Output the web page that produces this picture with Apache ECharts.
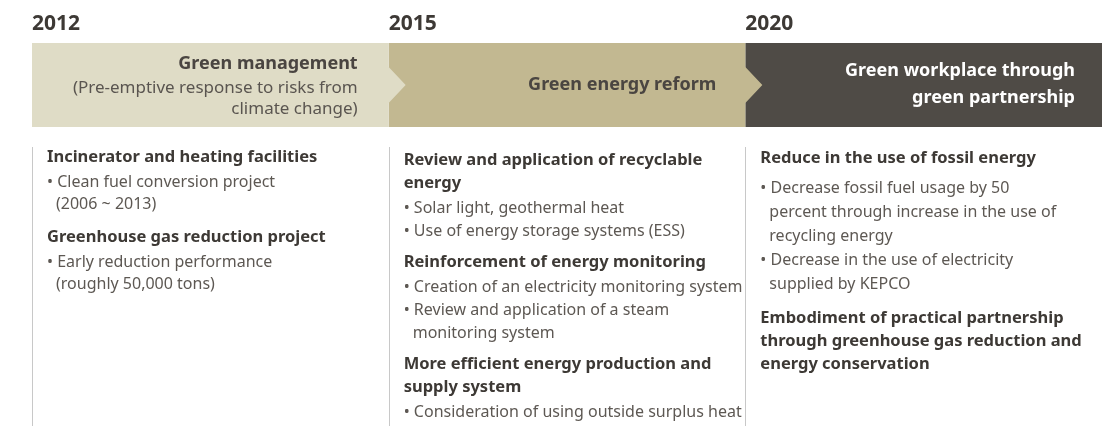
<!DOCTYPE html>
<html>
<head>
<meta charset="utf-8">
<script src="https://cdn.jsdelivr.net/npm/echarts@6/dist/echarts.min.js"></script>
<style>
    html, body { margin: 0; padding: 0; background: #fff; }
    #main { width: 1111px; height: 426px; }
</style>
</head>
<body>
<div id="main"></div>
<script>
// years and the band headline of each phase
const years = ['2012', '2015', '2020'];
const phaseTitles = [
    ['Green management'],
    ['Green energy reform'],
    ['Green workplace through', 'green partnership']
];
const phaseNotes = [
    ['(Pre-emptive response to risks from', 'climate change)'],
    [],
    []
];

// h = heading line, b = bullet line, c = continued bullet line
const details2012 = [
    ['h', 'Incinerator and heating facilities'],
    ['b', 'Clean fuel conversion project'],
    ['c', '(2006 ~ 2013)'],
    ['h', 'Greenhouse gas reduction project'],
    ['b', 'Early reduction performance'],
    ['c', '(roughly 50,000 tons)']
];
const details2015 = [
    ['h', 'Review and application of recyclable'],
    ['h', 'energy'],
    ['b', 'Solar light, geothermal heat'],
    ['b', 'Use of energy storage systems (ESS)'],
    ['h', 'Reinforcement of energy monitoring'],
    ['b', 'Creation of an electricity monitoring system'],
    ['b', 'Review and application of a steam'],
    ['c', 'monitoring system'],
    ['h', 'More efficient energy production and'],
    ['h', 'supply system'],
    ['b', 'Consideration of using outside surplus heat']
];
const details2020 = [
    ['h', 'Reduce in the use of fossil energy'],
    ['b', 'Decrease fossil fuel usage by 50'],
    ['c', 'percent through increase in the use of'],
    ['c', 'recycling energy'],
    ['b', 'Decrease in the use of electricity'],
    ['c', 'supplied by KEPCO'],
    ['h', 'Embodiment of practical partnership'],
    ['h', 'through greenhouse gas reduction and'],
    ['h', 'energy conservation']
];
const details = [details2012, details2015, details2020];

const FONT = '"Noto Sans", "Open Sans", sans-serif';
const bandColors = ['#dfdcc6', '#c2b891', '#4f4b46'];
const titleColors = ['#4a4541', '#4a4541', '#ffffff'];
const titlePad = [31, 29, 27];
const spacing = [
    { hb: 25, bb: 22, bh: 33, hh: 23, first: 157 },
    { hb: 25, bb: 23, bh: 31, hh: 23, first: 160 },
    { hb: 30, bb: 24, bh: 34, hh: 23, first: 158 }
];

function renderPhase(params, api) {
    const i = api.value(0);
    const x0 = api.coord([i, 0])[0];
    const x1 = api.coord([i + 1, 0])[0];
    const top = 43, bottom = 127, mid = 85;
    const tip = i < years.length - 1 ? 17 : 0;
    const children = [];

    children.push({
        type: 'polygon',
        z2: 10 - i,
        shape: {
            points: [[x0, top], [x1, top], [x1, mid - 18], [x1 + tip, mid],
                     [x1, mid + 18], [x1, bottom], [x0, bottom]]
        },
        style: { fill: bandColors[i] }
    });

    children.push({
        type: 'text',
        z2: 20,
        style: {
            text: years[i], x: x0, y: 24, fill: '#3d3935',
            font: 'bold 21px ' + FONT, align: 'left', verticalAlign: 'middle'
        }
    });

    // headline block, right aligned and centred in the band
    const titles = phaseTitles[i], notes = phaseNotes[i];
    const blockH = titles.length * 27 + notes.length * 21;
    const tx = x1 - titlePad[i];
    let y = mid - blockH / 2;
    titles.forEach(t => {
        children.push({
            type: 'text', z2: 20,
            style: {
                text: t, x: tx, y: y + 13, fill: titleColors[i],
                font: 'bold 18px ' + FONT, align: 'right', verticalAlign: 'middle'
            }
        });
        y += 27;
    });
    notes.forEach(t => {
        children.push({
            type: 'text', z2: 20,
            style: {
                text: t, x: tx, y: y + 10.5, fill: '#5a5550',
                font: '17px ' + FONT, align: 'right', verticalAlign: 'middle'
            }
        });
        y += 21;
    });

    // divider line under each phase
    children.push({
        type: 'line', z2: 1,
        shape: { x1: Math.round(x0) + 0.5, y1: 147, x2: Math.round(x0) + 0.5, y2: 426 },
        style: { stroke: '#c8c8c8', lineWidth: 1 }
    });

    // detail text
    const sp = spacing[i];
    let ly = sp.first;
    let prev = null;
    details[i].forEach(([kind, t]) => {
        if (prev) {
            if (kind === 'h') ly += prev === 'h' ? sp.hh : sp.bh;
            else ly += prev === 'h' ? sp.hb : sp.bb;
        }
        const isHead = kind === 'h';
        children.push({
            type: 'text', z2: 20,
            style: {
                text: kind === 'b' ? '\u2022 ' + t : t,
                x: x0 + 15 + (kind === 'c' ? 9 : 0),
                y: ly,
                fill: isHead ? '#3d3935' : '#5d5853',
                font: isHead ? 'bold 16.5px ' + FONT : '16px ' + FONT,
                align: 'left', verticalAlign: 'middle'
            }
        });
        prev = kind;
    });

    return { type: 'group', children: children };
}

const chart = echarts.init(document.getElementById('main'));
chart.setOption({
    animation: false,
    grid: { left: 32, right: 9, top: 0, bottom: 0 },
    xAxis: { type: 'value', min: 0, max: years.length, show: false },
    yAxis: { type: 'value', min: 0, max: 1, show: false },
    series: [{
        type: 'custom',
        renderItem: renderPhase,
        data: years.map((y, i) => [i]),
        encode: { x: 0 },
        clip: false
    }]
});
</script>
</body>
</html>
